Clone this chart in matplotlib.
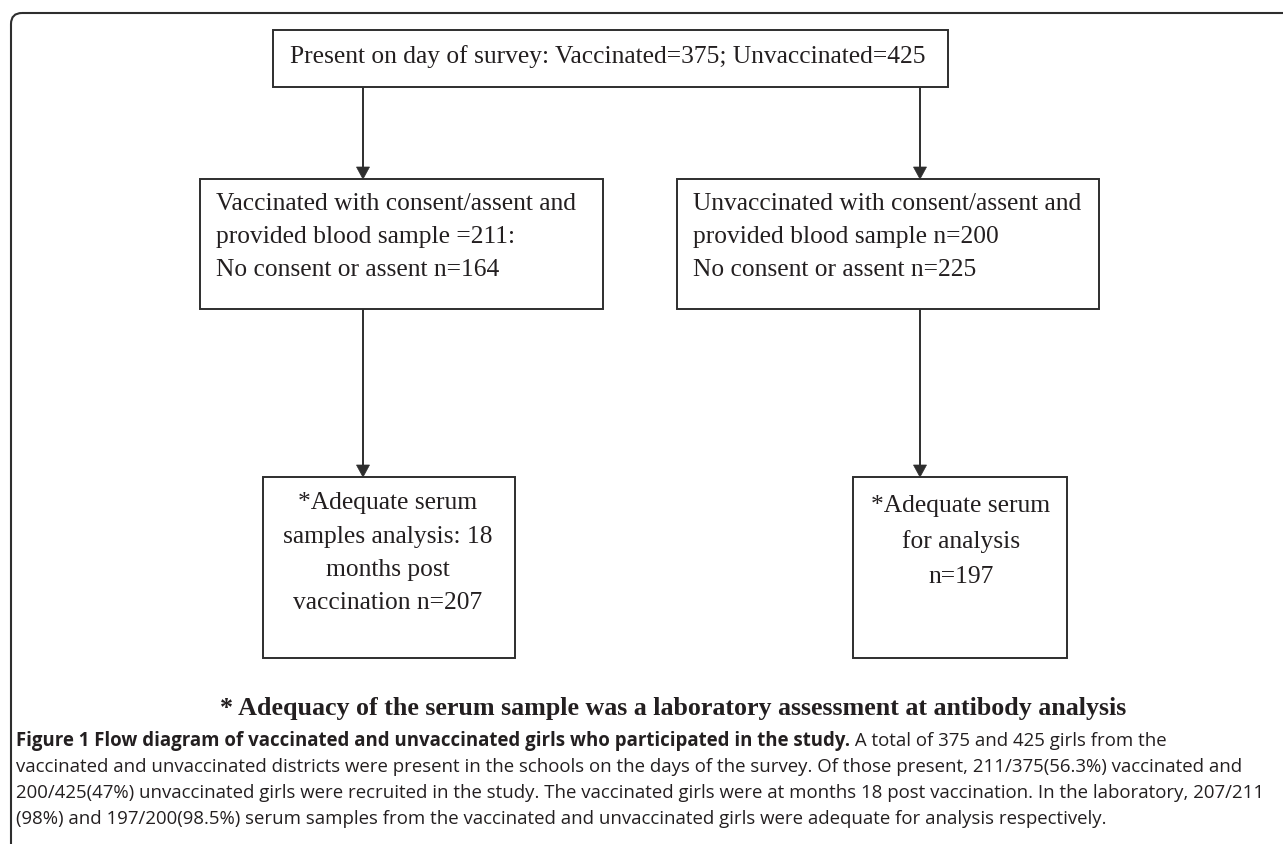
import matplotlib
matplotlib.use("Agg")
import matplotlib.pyplot as plt
from matplotlib.patches import Rectangle, FancyBboxPatch, Polygon

# ---------------- data ----------------
groups = ["Vaccinated", "Unvaccinated"]
present_n = [375, 425]
consented_n = [211, 200]
no_consent_n = [164, 225]
adequate_n = [207, 197]
months_post = 18

footnote = "* Adequacy of the serum sample was a laboratory assessment at antibody analysis"
caption_bold = "Figure 1 Flow diagram of vaccinated and unvaccinated girls who participated in the study."
caption_lines = [
    " A total of 375 and 425 girls from the",
    "vaccinated and unvaccinated districts were present in the schools on the days of the survey. Of those present, 211/375(56.3%) vaccinated and",
    "200/425(47%) unvaccinated girls were recruited in the study. The vaccinated girls were at months 18 post vaccination. In the laboratory, 207/211",
    "(98%) and 197/200(98.5%) serum samples from the vaccinated and unvaccinated girls were adequate for analysis respectively.",
]

top_text = f"Present on day of survey: {groups[0]}={present_n[0]}; {groups[1]}={present_n[1]}"
mid_texts = [
    [f"{groups[0]} with consent/assent and",
     f"provided blood sample ={consented_n[0]}:",
     f"No consent or assent n={no_consent_n[0]}"],
    [f"{groups[1]} with consent/assent and",
     f"provided blood sample n={consented_n[1]}",
     f"No consent or assent n={no_consent_n[1]}"],
]
bot_texts = [
    ["*Adequate serum", f"samples analysis: {months_post}", "months post",
     f"vaccination n={adequate_n[0]}"],
    ["*Adequate serum", "for analysis", f"n={adequate_n[1]}"],
]

# ---------------- layout ----------------
W, H = 1283, 844
fig = plt.figure(figsize=(W / 100, H / 100), dpi=100)
ax = fig.add_axes([0, 0, 1, 1])
ax.set_xlim(0, W)
ax.set_ylim(H, 0)
ax.axis("off")
r = fig.canvas.get_renderer()

LC = "#2e2e2e"
TC = "#231f20"
LW = 1.4
SERIF = "Liberation Serif"
SANS = "Open Sans"


def fit(t, target):
    w = t.get_window_extent(r).width
    t.set_fontsize(t.get_fontsize() * target / w)
    return t


# outer rounded frame (clipped at right/bottom)
ax.add_patch(FancyBboxPatch((11, 13), 1400, 1000,
                            boxstyle="round,pad=0,rounding_size=11",
                            fc="none", ec=LC, lw=1.5))

# determine serif size from a reference line width
probe = ax.text(0, 0, mid_texts[0][0], family=SERIF, fontsize=10)
fit(probe, 362)
S = probe.get_fontsize()
probe.remove()


def box(x0, y0, x1, y1):
    ax.add_patch(Rectangle((x0, y0), x1 - x0, y1 - y0, fc="white", ec=LC, lw=LW))


def arrow(x, y0, y1):
    ax.plot([x, x], [y0, y1 - 11], color=LC, lw=LW, solid_capstyle="butt")
    ax.add_patch(Polygon([[x - 6.5, y1 - 12], [x + 6.5, y1 - 12], [x, y1]],
                         closed=True, fc=LC, ec=LC, lw=0.5))


# top box
box(273, 30, 948, 87)
ax.text(290, 57, top_text, family=SERIF, fontsize=S, color=TC, va="center", ha="left")

# middle boxes
mid_boxes = [(200, 179, 603, 309), (677, 179, 1099, 309)]
mid_x = [216, 693]
line_y_mid = [204, 237, 270]
for (bx0, by0, bx1, by1), tx, lines in zip(mid_boxes, mid_x, mid_texts):
    box(bx0, by0, bx1, by1)
    for yy, s in zip(line_y_mid, lines):
        ax.text(tx, yy, s, family=SERIF, fontsize=S, color=TC, va="center", ha="left")

# bottom boxes
bot_boxes = [(263, 477, 515, 658), (853, 477, 1067, 658)]
bot_cx = [388, 961]
bot_y = [[503, 537, 570, 603], [506, 542, 577]]
for (bx0, by0, bx1, by1), cx, ys, lines in zip(bot_boxes, bot_cx, bot_y, bot_texts):
    box(bx0, by0, bx1, by1)
    for yy, s in zip(ys, lines):
        ax.text(cx, yy, s, family=SERIF, fontsize=S, color=TC, va="center", ha="center")

# arrows
arrow_x = [363, 920]
for ax_x, (mb) , (bb) in zip(arrow_x, mid_boxes, bot_boxes):
    arrow(ax_x, 87, mb[1])
    arrow(ax_x, mb[3], bb[1])

# footnote
ax.text(220, 708, footnote, family=SERIF, weight="bold", fontsize=S * 1.02,
        color=TC, va="center", ha="left")

# caption
cap_y = [741, 767, 793, 819]
probe = ax.text(0, 0, caption_lines[1], family=SANS, fontsize=10)
fit(probe, 1227)
C = probe.get_fontsize()
probe.remove()

tb = ax.text(16, cap_y[0], caption_bold, family=SANS, weight="bold", fontsize=C,
             color=TC, va="center", ha="left")
bb = tb.get_window_extent(r)
x_end = ax.transData.inverted().transform((bb.x1, bb.y0))[0]
ax.text(x_end, cap_y[0], caption_lines[0], family=SANS, fontsize=C, color=TC,
        va="center", ha="left")
for yy, s in zip(cap_y[1:], caption_lines[1:]):
    ax.text(16, yy, s, family=SANS, fontsize=C, color=TC, va="center", ha="left")

fig.savefig("out.png", dpi=100, facecolor="white")
